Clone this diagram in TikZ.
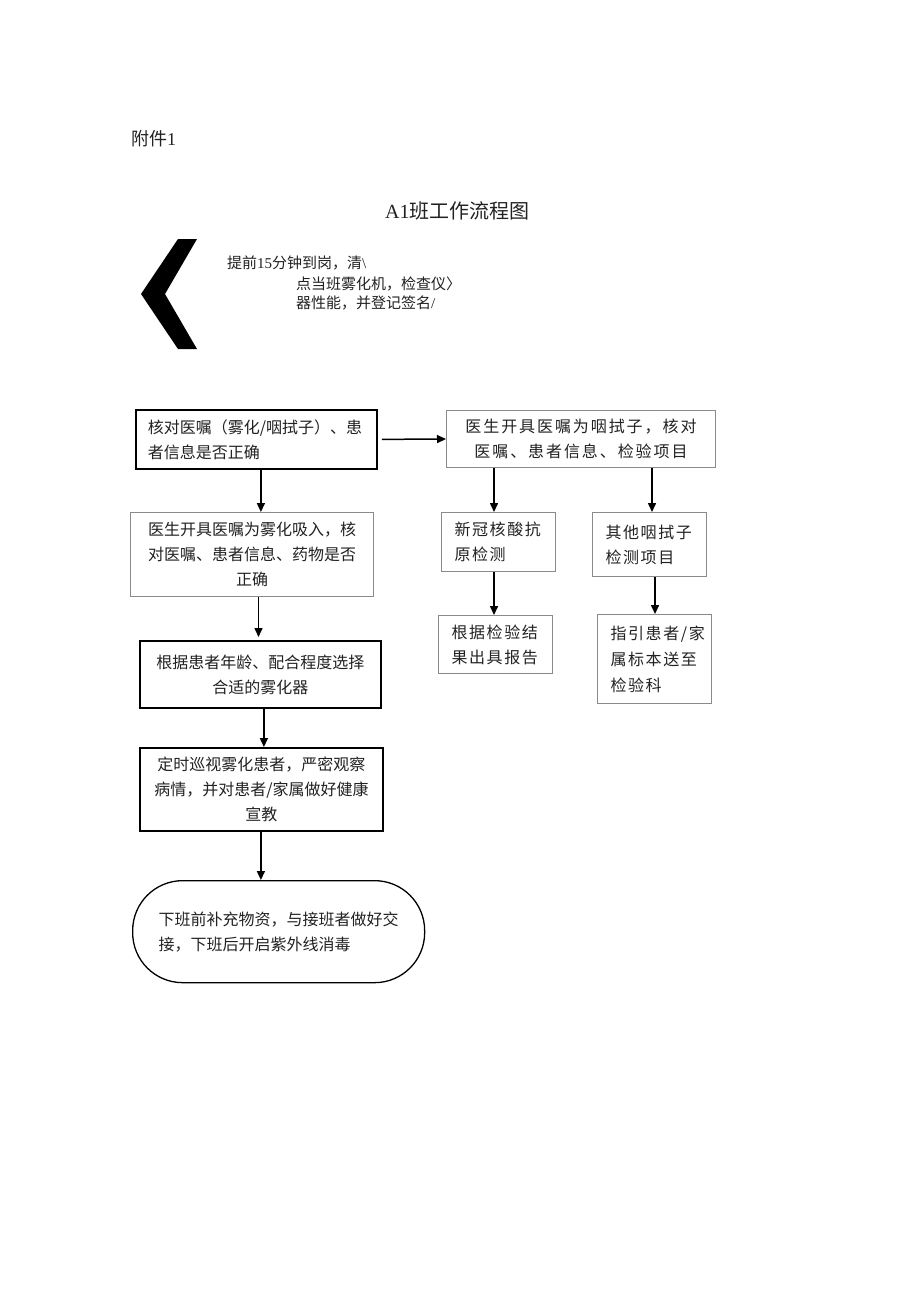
\documentclass[tikz,border=0pt]{standalone}
\usepackage{fontspec}
\setmainfont{Liberation Serif}
\newfontfamily\cjk{Noto Sans CJK SC}
\newfontfamily\cjkw[LetterSpace=10]{Noto Sans CJK SC}
\newfontfamily\cjkww[LetterSpace=12]{Noto Sans CJK SC}
\usetikzlibrary{arrows.meta}
\definecolor{thinline}{HTML}{8A8A8A}
\definecolor{txt}{HTML}{222222}
\begin{document}
\begin{tikzpicture}[x=1pt,y=-1pt,
  boxbase/.style={anchor=north west, inner ysep=0pt, text=txt,
    font=\cjk\fontsize{16}{25}\selectfont},
  thickbox/.style={boxbase, draw=black, line width=1.8pt},
  thinbox/.style={boxbase, draw=thinline, line width=1pt},
  smallbox/.style={thinbox, align=left, inner xsep=13pt, text width=88pt,
    font=\cjkw\fontsize{16}{25}\selectfont},
  arr/.style={line width=1.5pt, -{Triangle[length=9pt,width=8pt]}},
  plain/.style={anchor=base west, inner sep=0pt, text=txt}
]
\useasboundingbox (0,0) rectangle (920,1301);
\fill[white] (0,0) rectangle (920,1301);

% header
\node[plain, font=\fontsize{18}{22}\selectfont] (fj) at (131,145) {{\cjk 附件}1};
\node[plain, font=\fontsize{20}{24}\selectfont] (title) at (385,218) {A1{\cjk 班工作流程图}};

% chevron
\fill[black] (178,239) -- (197,239) -- (165,294) -- (197,349) -- (178,349) -- (141,294) -- cycle;
\node[plain, font=\fontsize{15}{20}\selectfont] (c1) at (227,268) {{\cjk 提前}15{\cjk 分钟到岗，清}\textbackslash};
\node[plain, font=\fontsize{15}{20}\selectfont] (c2) at (296,289) {{\cjk 点当班雾化机，检查仪〉}};
\node[plain, font=\fontsize{15}{20}\selectfont] (c3) at (296,308) {{\cjk 器性能，并登记签名}/};

% left column
\node[thickbox, align=left, inner xsep=12pt, text width=217pt, minimum height=59pt] (b1) at (135,409)
  {核对医嘱（雾化/咽拭子）、患\\者信息是否正确};
\node[thinbox, align=center, inner xsep=6pt, text width=231pt, minimum height=84pt] (b3) at (130,512)
  {医生开具医嘱为雾化吸入，核\\对医嘱、患者信息、药物是否\\正确};
\node[thickbox, align=center, inner xsep=6pt, text width=229pt, minimum height=67pt] (b4) at (139,640)
  {根据患者年龄、配合程度选择\\合适的雾化器};
\node[thickbox, align=center, inner xsep=6pt, text width=231pt, minimum height=83pt] (b5) at (139,747)
  {定时巡视雾化患者，严密观察\\病情，并对患者/家属做好健康\\宣教};
\node[boxbase, draw=black, line width=1.3pt, rounded corners=50pt, align=left, inner xsep=26pt,
  text width=240pt, minimum height=102pt] (term) at (132,880)
  {下班前补充物资，与接班者做好交\\接，下班后开启紫外线消毒};

% right column
\node[thinbox, align=center, inner xsep=6pt, text width=257pt, minimum height=57pt,
  font=\cjkww\fontsize{16}{25}\selectfont] (b2) at (446,410)
  {医生开具医嘱为咽拭子，核对\\医嘱、患者信息、检验项目};
\node[smallbox, minimum height=59pt] (sa) at (441,512) {新冠核酸抗\\原检测};
\node[smallbox, minimum height=64pt] (sb) at (592,512) {其他咽拭子\\检测项目};
\node[smallbox, minimum height=58pt] (sc) at (438,615) {根据检验结\\果出具报告};
\node[smallbox, minimum height=89pt, font=\cjkw\fontsize{16}{26}\selectfont] (sd) at (597,614) {指引患者/家\\属标本送至\\检验科};

% connectors
\draw[arr, shorten <=4pt] (b1.east) -- (b2.west);
\draw[arr] ([xshift=4.5pt]b1.south) -- ([xshift=4.5pt]b1.south |- b3.north);
\draw[arr, shorten >=3pt] ([xshift=6.5pt]b3.south) -- ([xshift=6.5pt]b3.south |- b4.north);
\draw[arr] ([xshift=3.5pt]b4.south) -- ([xshift=3.5pt]b4.south |- b5.north);
\draw[arr] ([xshift=-0.5pt]b5.south) -- ([xshift=-0.5pt]b5.south |- term.north);
\draw[arr] ([xshift=48pt]b2.south west) -- ([xshift=48pt]b2.south west |- sa.north);
\draw[arr] ([xshift=206pt]b2.south west) -- ([xshift=206pt]b2.south west |- sb.north);
\draw[arr] ([xshift=53pt]sa.south west) -- ([xshift=53pt]sa.south west |- sc.north);
\draw[arr] ([xshift=63pt]sb.south west) -- ([xshift=63pt]sb.south west |- sd.north);
\end{tikzpicture}
\end{document}
